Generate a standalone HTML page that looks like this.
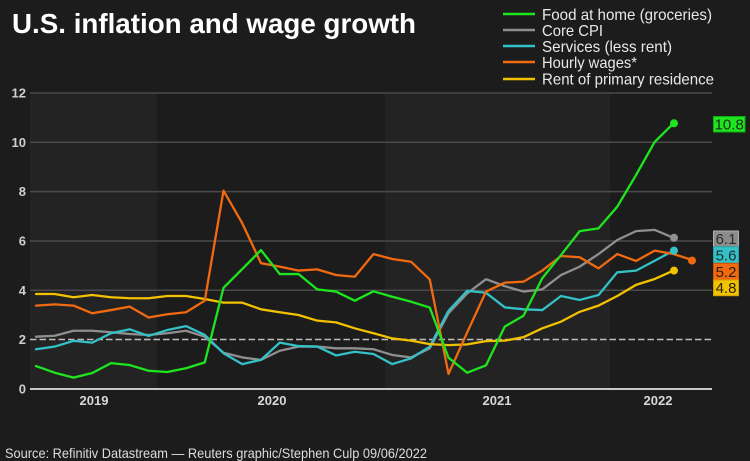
<!DOCTYPE html>
<html>
<head>
<meta charset="utf-8">
<style>
html,body{margin:0;padding:0;background:#1c1c1c;}
svg{display:block;}
text{font-family:"Liberation Sans",Arial,sans-serif;}
</style>
</head>
<body>
<svg width="750" height="461" viewBox="0 0 750 461" xmlns="http://www.w3.org/2000/svg">
<rect x="0" y="0" width="750" height="461" fill="#1c1c1c"/>
<!-- year bands -->
<rect x="30" y="93" width="127" height="296" fill="#232323"/>
<rect x="385" y="93" width="225" height="296" fill="#232323"/>

<!-- title -->
<text x="12" y="33" font-size="28" font-weight="bold" fill="#ffffff" textLength="404" lengthAdjust="spacingAndGlyphs">U.S. inflation and wage growth</text>

<!-- legend -->
<g stroke-width="2.5">
<line x1="503" y1="14" x2="535" y2="14" stroke="#1ee61e"/>
<line x1="503" y1="30" x2="535" y2="30" stroke="#8f8f8f"/>
<line x1="503" y1="46" x2="535" y2="46" stroke="#33c0c6"/>
<line x1="503" y1="62" x2="535" y2="62" stroke="#f26a0f"/>
<line x1="503" y1="79" x2="535" y2="79" stroke="#f2c200"/>
</g>
<g font-size="16" fill="#e8e8e8">
<text x="542" y="20" textLength="170" lengthAdjust="spacingAndGlyphs">Food at home (groceries)</text>
<text x="542" y="36" textLength="61" lengthAdjust="spacingAndGlyphs">Core CPI</text>
<text x="542" y="52" textLength="130" lengthAdjust="spacingAndGlyphs">Services (less rent)</text>
<text x="542" y="68" textLength="95" lengthAdjust="spacingAndGlyphs">Hourly wages*</text>
<text x="542" y="84.5" textLength="172" lengthAdjust="spacingAndGlyphs">Rent of primary residence</text>
</g>

<!-- gridlines -->
<g stroke="#4a4a4a" stroke-width="1.5">
<line x1="30" y1="93" x2="712" y2="93"/>
<line x1="30" y1="142.3" x2="712" y2="142.3"/>
<line x1="30" y1="191.6" x2="712" y2="191.6"/>
<line x1="30" y1="241" x2="712" y2="241"/>
<line x1="30" y1="290.3" x2="712" y2="290.3"/>
</g>
<line x1="30" y1="339.5" x2="712" y2="339.5" stroke="#bdbdbd" stroke-width="1.6" stroke-dasharray="6.5,3"/>
<line x1="30" y1="389" x2="712" y2="389" stroke="#c8c8c8" stroke-width="2"/>

<!-- y tick labels -->
<g font-size="13" font-weight="bold" fill="#cfcfcf" text-anchor="end">
<text x="26" y="97.5">12</text>
<text x="26" y="146.8">10</text>
<text x="26" y="196.1">8</text>
<text x="26" y="245.5">6</text>
<text x="26" y="294.8">4</text>
<text x="26" y="344">2</text>
<text x="26" y="393.5">0</text>
</g>

<!-- year labels -->
<g font-size="13" font-weight="bold" fill="#d8d8d8" text-anchor="middle">
<text x="94" y="405">2019</text>
<text x="272" y="405">2020</text>
<text x="497" y="405">2021</text>
<text x="658" y="405">2022</text>
</g>

<!-- series -->
<g transform="translate(36,389) scale(18.75,-24.67)" fill="none" stroke-width="2.3" stroke-linejoin="round" stroke-linecap="round">
<polyline vector-effect="non-scaling-stroke" stroke="#8f8f8f" points="0,2.12 1,2.16 2,2.36 3,2.36 4,2.3 5,2.23 6,2.19 7,2.26 8,2.36 9,2.12 10,1.47 11,1.28 12,1.18 13,1.55 14,1.72 15,1.72 16,1.65 17,1.65 18,1.61 19,1.38 20,1.28 21,1.65 22,3.07 23,3.88 24,4.45 25,4.17 26,3.95 27,4.04 28,4.62 29,4.96 30,5.47 31,6.04 32,6.4 33,6.45 34,6.13"/>
<polyline vector-effect="non-scaling-stroke" stroke="#33c0c6" points="0,1.61 1,1.72 2,1.95 3,1.88 4,2.26 5,2.42 6,2.15 7,2.39 8,2.55 9,2.19 10,1.45 11,1.01 12,1.18 13,1.88 14,1.74 15,1.72 16,1.36 17,1.51 18,1.42 19,1.01 20,1.24 21,1.72 22,3.17 23,3.98 24,3.9 25,3.31 26,3.23 27,3.2 28,3.77 29,3.61 30,3.81 31,4.73 32,4.8 33,5.2 34,5.61"/>
<polyline vector-effect="non-scaling-stroke" stroke="#f2c200" points="0,3.85 1,3.85 2,3.72 3,3.81 4,3.72 5,3.68 6,3.68 7,3.77 8,3.77 9,3.65 10,3.5 11,3.5 12,3.23 13,3.11 14,3.0 15,2.77 16,2.7 17,2.46 18,2.26 19,2.05 20,1.96 21,1.82 22,1.78 23,1.81 24,1.94 25,1.96 26,2.1 27,2.46 28,2.73 29,3.13 30,3.38 31,3.77 32,4.22 33,4.46 34,4.8"/>
<polyline vector-effect="non-scaling-stroke" stroke="#f26a0f" points="0,3.38 1,3.43 2,3.38 3,3.07 4,3.2 5,3.34 6,2.9 7,3.03 8,3.11 9,3.58 10,8.04 11,6.72 12,5.1 13,4.96 14,4.8 15,4.85 16,4.62 17,4.55 18,5.47 19,5.27 20,5.16 21,4.44 22,0.61 23,2.3 24,3.95 25,4.31 26,4.35 27,4.8 28,5.39 29,5.34 30,4.89 31,5.47 32,5.19 33,5.61 34,5.47 35,5.23"/>
<polyline vector-effect="non-scaling-stroke" stroke="#1ee61e" points="0,0.93 1,0.66 2,0.46 3,0.65 4,1.05 5,0.97 6,0.74 7,0.69 8,0.84 9,1.08 10,4.1 11,4.86 12,5.63 13,4.66 14,4.66 15,4.04 16,3.95 17,3.58 18,3.96 19,3.74 20,3.54 21,3.3 22,1.27 23,0.66 24,0.96 25,2.53 26,2.97 27,4.49 28,5.43 29,6.4 30,6.51 31,7.39 32,8.67 33,10.02 34,10.77"/>
</g>

<!-- end dots -->
<circle cx="674" cy="237.8" r="4" fill="#8f8f8f"/>
<circle cx="674" cy="250.6" r="4" fill="#33c0c6"/>
<circle cx="674" cy="270.6" r="4" fill="#f2c200"/>
<circle cx="692" cy="260.6" r="4" fill="#f26a0f"/>
<circle cx="674" cy="123.3" r="4" fill="#1ee61e"/>

<!-- value labels -->
<rect x="713.5" y="116.5" width="31.5" height="15.5" fill="#1ee61e" stroke="#12a812" stroke-width="1"/>
<text x="729.2" y="129.5" font-size="15" fill="#1f2a1f" text-anchor="middle">10.8</text>
<rect x="713.5" y="231" width="25" height="15.7" fill="#8c8c8c" stroke="#b0b0b0" stroke-width="1"/>
<text x="726" y="244.2" font-size="15" fill="#2a2a2a" text-anchor="middle">6.1</text>
<rect x="713.5" y="246.7" width="25" height="16.6" fill="#33c0c6" stroke="#2aa0a6" stroke-width="1"/>
<text x="726" y="260.4" font-size="15" fill="#1f2f30" text-anchor="middle">5.6</text>
<rect x="713.5" y="263.3" width="25" height="16.7" fill="#f26a0f" stroke="#c85508" stroke-width="1"/>
<text x="726" y="277" font-size="15" fill="#2a1a10" text-anchor="middle">5.2</text>
<rect x="713.5" y="280" width="25" height="15.7" fill="#f2c200" stroke="#c9a000" stroke-width="1"/>
<text x="726" y="293.2" font-size="15" fill="#2a2410" text-anchor="middle">4.8</text>

<!-- source -->
<text x="5" y="458" font-size="14" fill="#dddddd" textLength="422" lengthAdjust="spacingAndGlyphs">Source: Refinitiv Datastream — Reuters graphic/Stephen Culp 09/06/2022</text>
</svg>
</body>
</html>
